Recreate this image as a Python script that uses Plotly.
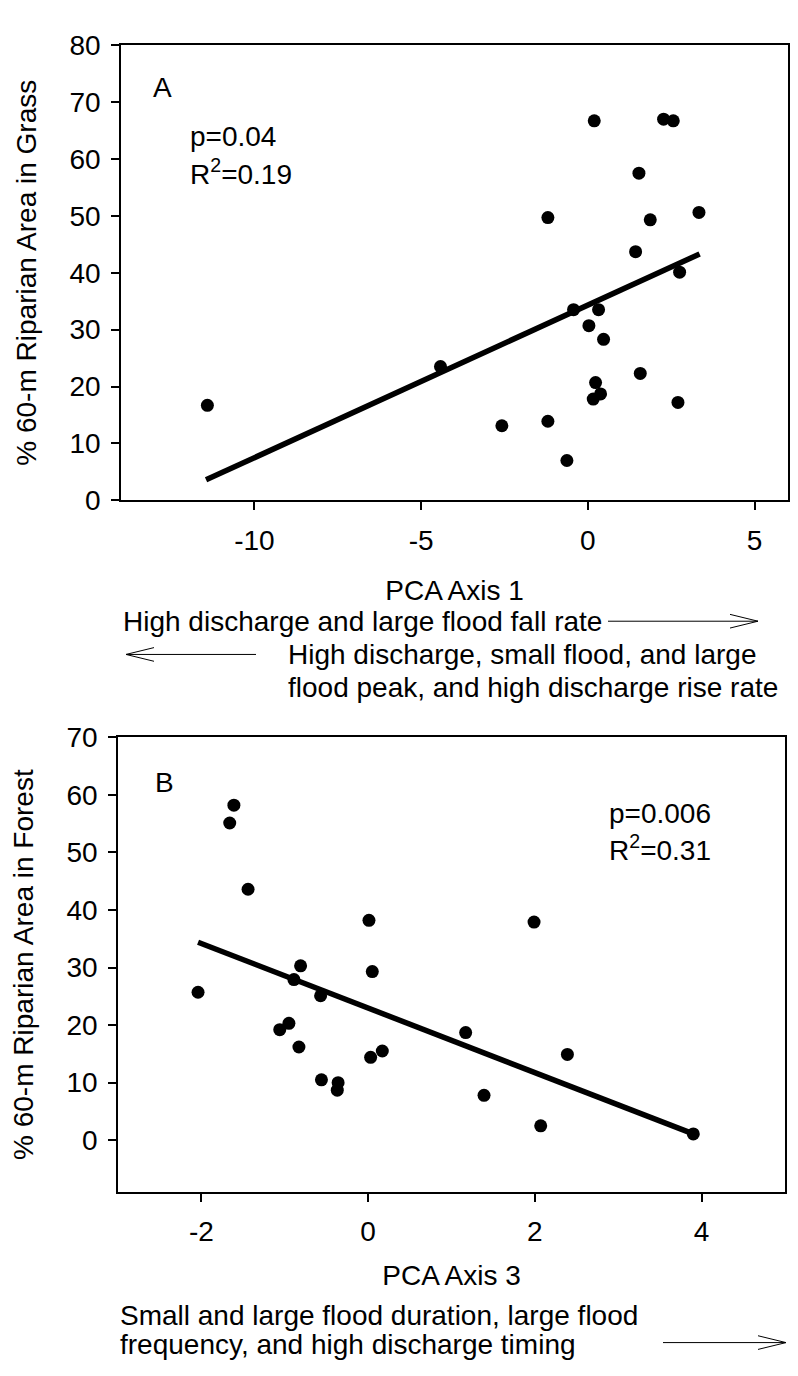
import plotly.graph_objects as go

# ---------------- data ----------------
# Panel A: PCA Axis 1 vs % 60-m riparian area in grass
a_x = [-11.41, -4.42, -0.43, 0.32, 0.03, 0.47, 1.57, 0.23, 0.38, 0.16, 2.70, -2.58,
       -1.20, -0.63, 2.75, 0.19, 2.27, 2.56, 1.53, -1.20, 1.87, 3.33, 1.43]
a_y = [16.7, 23.5, 33.5, 33.5, 30.7, 28.3, 22.3, 20.7, 18.7, 17.8, 17.2, 13.1,
       13.9, 7.0, 40.1, 66.7, 67.0, 66.7, 57.5, 49.7, 49.3, 50.6, 43.7]
a_fit_x = [-11.45, 3.35]
a_fit_y = [3.6, 43.3]

# Panel B: PCA Axis 3 vs % 60-m riparian area in forest
b_x = [-2.04, -0.81, -0.89, -0.57, 0.05, 0.01, 1.99, -0.95, -1.06, -0.83, 0.03, 0.17,
       1.17, 2.39, -0.56, -0.36, -0.37, 1.39, 2.07, -1.61, -1.66, -1.44, 3.90]
b_y = [25.7, 30.3, 27.9, 25.1, 29.3, 38.2, 37.9, 20.3, 19.2, 16.2, 14.4, 15.5,
       18.7, 14.9, 10.5, 10.0, 8.7, 7.8, 2.5, 58.2, 55.1, 43.6, 1.1]
b_fit_x = [-2.04, 3.90]
b_fit_y = [34.4, 1.1]

a_xticks = [-10, -5, 0, 5]
a_xticklabels = ["-10", "-5", "0", "5"]
a_yticks = [0, 10, 20, 30, 40, 50, 60, 70, 80]
b_xticks = [-2, 0, 2, 4]
b_xticklabels = ["-2", "0", "2", "4"]
b_yticks = [0, 10, 20, 30, 40, 50, 60, 70]

# ---------------- layout helpers ----------------
W, H = 798, 1376
FONT = "Liberation Sans, Arial, sans-serif"
FS = 28


def px(x):
    return x / W


def py(y):
    return 1 - y / H


fig = go.Figure()

fig.add_trace(go.Scatter(x=a_fit_x, y=a_fit_y, mode="lines",
                         line=dict(color="black", width=5.5), xaxis="x", yaxis="y",
                         showlegend=False))
fig.add_trace(go.Scatter(x=a_x, y=a_y, mode="markers",
                         marker=dict(color="black", size=13), xaxis="x", yaxis="y",
                         showlegend=False))
fig.add_trace(go.Scatter(x=b_fit_x, y=b_fit_y, mode="lines",
                         line=dict(color="black", width=5.5), xaxis="x2", yaxis="y2",
                         showlegend=False))
fig.add_trace(go.Scatter(x=b_x, y=b_y, mode="markers",
                         marker=dict(color="black", size=13), xaxis="x2", yaxis="y2",
                         showlegend=False))

axis_common = dict(showline=True, linecolor="black", linewidth=1.5, mirror=True,
                   ticks="outside", ticklen=8, tickwidth=1.5, tickcolor="black",
                   showgrid=False, zeroline=False,
                   tickfont=dict(family=FONT, size=FS, color="black"))

title_font = dict(family=FONT, size=FS, color="black")

fig.update_layout(
    width=W, height=H,
    margin=dict(l=0, r=0, t=0, b=0),
    paper_bgcolor="white", plot_bgcolor="white",
    font=dict(family=FONT, color="black"),
    xaxis=dict(domain=[px(113), px(780)], range=[-14, 6], tickvals=a_xticks,
               ticktext=a_xticklabels, anchor="y", ticklabelstandoff=6,
               title=dict(text="PCA Axis 1", font=title_font, standoff=26),
               **axis_common),
    yaxis=dict(domain=[py(488.3), py(22.7)], range=[0, 80], tickvals=a_yticks,
               anchor="x", ticklabelstandoff=5,
               title=dict(text="% 60-m Riparian Area in Grass", font=title_font,
                          standoff=25),
               **axis_common),
    xaxis2=dict(domain=[px(110), px(777)], range=[-3, 5], tickvals=b_xticks,
                ticktext=b_xticklabels, anchor="y2", ticklabelstandoff=6,
                title=dict(text="PCA Axis 3", font=title_font, standoff=19),
                **axis_common),
    yaxis2=dict(domain=[py(1196), py(730.7)], range=[-9, 70], tickvals=b_yticks,
                anchor="x2", ticklabelstandoff=5,
                title=dict(text="% 60-m Riparian Area in Forest", font=title_font,
                           standoff=25),
                **axis_common),
)

txt_font = dict(family=FONT, size=FS, color="black")
ann = []
# panel labels and statistics (data coordinates)
ann.append(dict(x=-13.1, y=72.6, xref="x", yref="y", text="A", showarrow=False,
                xanchor="left", yanchor="middle", font=txt_font))
ann.append(dict(x=-12.0, y=64.0, xref="x", yref="y", text="p=0.04", showarrow=False,
                xanchor="left", yanchor="middle", font=txt_font))
ann.append(dict(x=-12.0, y=57.7, xref="x", yref="y", text="R<sup>2</sup>=0.19",
                showarrow=False, xanchor="left", yanchor="middle", font=txt_font))
ann.append(dict(x=-2.58, y=62.1, xref="x2", yref="y2", text="B", showarrow=False,
                xanchor="left", yanchor="middle", font=txt_font))
ann.append(dict(x=2.86, y=56.7, xref="x2", yref="y2", text="p=0.006", showarrow=False,
                xanchor="left", yanchor="middle", font=txt_font))
ann.append(dict(x=2.86, y=50.8, xref="x2", yref="y2", text="R<sup>2</sup>=0.31",
                showarrow=False, xanchor="left", yanchor="middle", font=txt_font))

# descriptive axis-direction text (paper coordinates)
desc = [
    (113, 612, "High discharge and large flood fall rate"),
    (278, 646, "High discharge, small flood, and large"),
    (278, 680, "flood peak, and high discharge rise rate"),
    (110, 1322, "Small and large flood duration, large flood"),
    (110, 1352, "frequency, and high discharge timing"),
]
for x0, y0, t in desc:
    ann.append(dict(x=px(x0), y=py(y0), xref="paper", yref="paper", text=t,
                    showarrow=False, xanchor="left", yanchor="middle", font=txt_font))

fig.update_layout(annotations=ann)

# open arrows drawn as thin lines
shapes = []


def arrow(x_tail, x_head, y):
    d = 1 if x_head > x_tail else -1
    lw = dict(color="black", width=1)
    shapes.append(dict(type="line", xref="paper", yref="paper",
                       x0=px(x_tail), x1=px(x_head), y0=py(y), y1=py(y), line=lw))
    shapes.append(dict(type="line", xref="paper", yref="paper",
                       x0=px(x_head - d * 28), x1=px(x_head), y0=py(y - 7), y1=py(y),
                       line=lw))
    shapes.append(dict(type="line", xref="paper", yref="paper",
                       x0=px(x_head - d * 28), x1=px(x_head), y0=py(y + 7), y1=py(y),
                       line=lw))


arrow(600, 750, 612)
arrow(248, 118, 646)
arrow(655, 778, 1350)
fig.update_layout(shapes=shapes)

fig.write_html("out.html")
